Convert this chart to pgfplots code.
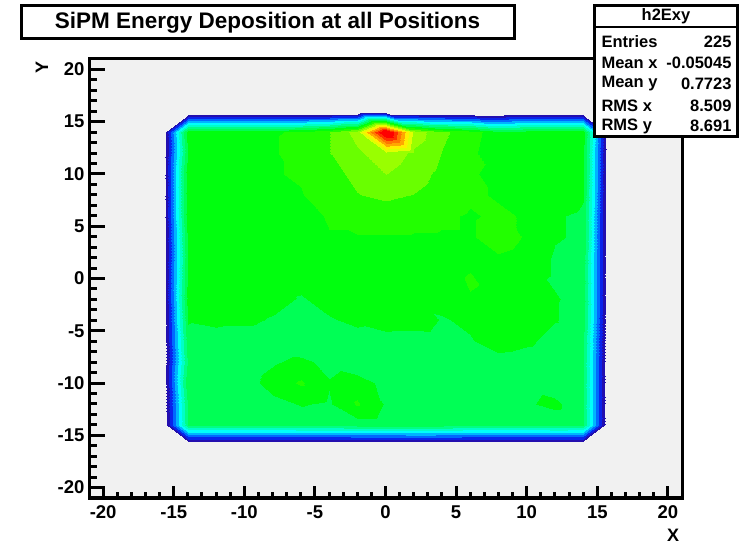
\documentclass[border=0pt]{standalone}
\usepackage{fontspec}
\setmainfont{Liberation Sans}
\usepackage{pgfplots}
\pgfplotsset{compat=1.18}
\definecolor{bgGray}{RGB}{241,241,241}
\begin{document}
\begin{tikzpicture}
\useasboundingbox (0,0) rectangle (739bp,544bp);
\begin{axis}[
  at={(89bp,46bp)}, anchor=south west,
  width=593bp, height=439bp, scale only axis,
  xmin=-21, xmax=21, ymin=-21, ymax=21,
  axis background/.style={fill=bgGray},
  axis line style={line width=3bp, black},
  xtick={-20,-15,...,20}, ytick={-20,-15,...,20},
  minor tick num=4,
  xtick pos=bottom, ytick pos=left,
  tick align=inside,
  major tick length=16bp, minor tick length=8bp,
  xtick style={/pgfplots/major tick length=12bp,/pgfplots/minor tick length=6bp},
  tick style={black, line width=3bp},
  /pgf/number format/assume math mode=true,
  ticklabel style={font=\fontsize{18.5bp}{18.5bp}\selectfont\bfseries},
  xticklabel style={yshift=-4bp},
  yticklabel style={xshift=-1bp},
  colormap={rootcont}{
    rgb255=(241,241,241) rgb255=(241,241,241) rgb255=(35,15,175) rgb255=(10,35,235)
    rgb255=(0,105,255) rgb255=(0,180,255) rgb255=(0,255,250) rgb255=(0,255,200)
    rgb255=(0,255,133) rgb255=(0,255,85) rgb255=(0,255,14) rgb255=(34,255,0)
    rgb255=(105,255,0) rgb255=(153,255,0) rgb255=(224,255,0) rgb255=(255,238,0)
    rgb255=(255,167,0) rgb255=(255,119,0) rgb255=(255,48,0) rgb255=(255,0,0)
    rgb255=(255,0,0)},
  colormap access=piecewise constant,
  point meta min=0, point meta max=1,
]
\addplot[surf, shader=interp, point meta=explicit, mesh/cols=17] table[x=x, y=y, meta=c] {
x y c
-16 -16 0
-14 -16 0
-12 -16 0
-10 -16 0
-8 -16 0
-6 -16 0
-4 -16 0
-2 -16 0
0 -16 0
2 -16 0
4 -16 0
6 -16 0
8 -16 0
10 -16 0
12 -16 0
14 -16 0
16 -16 0

-16 -14 0
-14 -14 0.43
-12 -14 0.43
-10 -14 0.43
-8 -14 0.43
-6 -14 0.44
-4 -14 0.44
-2 -14 0.45
0 -14 0.45
2 -14 0.46
4 -14 0.45
6 -14 0.43
8 -14 0.43
10 -14 0.43
12 -14 0.44
14 -14 0.43
16 -14 0

-16 -12 0
-14 -12 0.44
-12 -12 0.43
-10 -12 0.44
-8 -12 0.46
-6 -12 0.48
-4 -12 0.47
-2 -12 0.53
0 -12 0.47
2 -12 0.45
4 -12 0.44
6 -12 0.43
8 -12 0.43
10 -12 0.47
12 -12 0.49
14 -12 0.43
16 -12 0

-16 -10 0
-14 -10 0.47
-12 -10 0.44
-10 -10 0.45
-8 -10 0.50
-6 -10 0.53
-4 -10 0.48
-2 -10 0.50
0 -10 0.46
2 -10 0.43
4 -10 0.43
6 -10 0.43
8 -10 0.43
10 -10 0.46
12 -10 0.44
14 -10 0.43
16 -10 0

-16 -8 0
-14 -8 0.44
-12 -8 0.43
-10 -8 0.44
-8 -8 0.47
-6 -8 0.49
-4 -8 0.46
-2 -8 0.44
0 -8 0.43
2 -8 0.43
4 -8 0.43
6 -8 0.44
8 -8 0.45
10 -8 0.44
12 -8 0.43
14 -8 0.43
16 -8 0

-16 -6 0
-14 -6 0.46
-12 -6 0.45
-10 -6 0.44
-8 -6 0.44
-6 -6 0.43
-4 -6 0.44
-2 -6 0.45
0 -6 0.44
2 -6 0.43
4 -6 0.44
6 -6 0.47
8 -6 0.51
10 -6 0.49
12 -6 0.45
14 -6 0.44
16 -6 0

-16 -4 0
-14 -4 0.48
-12 -4 0.49
-10 -4 0.49
-8 -4 0.47
-6 -4 0.44
-4 -4 0.47
-2 -4 0.49
0 -4 0.52
2 -4 0.52
4 -4 0.47
6 -4 0.49
8 -4 0.52
10 -4 0.52
12 -4 0.48
14 -4 0.45
16 -4 0

-16 -2 0
-14 -2 0.50
-12 -2 0.51
-10 -2 0.51
-8 -2 0.50
-6 -2 0.47
-4 -2 0.50
-2 -2 0.51
0 -2 0.50
2 -2 0.49
4 -2 0.50
6 -2 0.52
8 -2 0.51
10 -2 0.50
12 -2 0.48
14 -2 0.46
16 -2 0

-16 0 0
-14 0 0.49
-12 0 0.50
-10 0 0.51
-8 0 0.51
-6 0 0.50
-4 0 0.50
-2 0 0.51
0 0 0.50
2 0 0.49
4 0 0.50
6 0 0.53
8 0 0.50
10 0 0.49
12 0 0.47
14 0 0.46
16 0 0

-16 2 0
-14 2 0.48
-12 2 0.49
-10 2 0.51
-8 2 0.51
-6 2 0.49
-4 2 0.48
-2 2 0.49
0 2 0.49
2 2 0.48
4 2 0.49
6 2 0.51
8 2 0.52
10 2 0.51
12 2 0.47
14 2 0.46
16 2 0

-16 4 0
-14 4 0.49
-12 4 0.51
-10 4 0.50
-8 4 0.48
-6 4 0.49
-4 4 0.52
-2 4 0.52
0 4 0.52
2 4 0.52
4 4 0.52
6 4 0.52
8 4 0.54
10 4 0.52
12 4 0.48
14 4 0.47
16 4 0

-16 6 0
-14 6 0.51
-12 6 0.52
-10 6 0.51
-8 6 0.49
-6 6 0.50
-4 6 0.53
-2 6 0.55
0 6 0.55
2 6 0.54
4 6 0.53
6 6 0.52
8 6 0.53
10 6 0.52
12 6 0.48
14 6 0.47
16 6 0

-16 8 0
-14 8 0.51
-12 8 0.52
-10 8 0.52
-8 8 0.52
-6 8 0.52
-4 8 0.56
-2 8 0.57
0 8 0.58
2 8 0.57
4 8 0.55
6 8 0.53
8 8 0.52
10 8 0.52
12 8 0.50
14 8 0.48
16 8 0

-16 10 0
-14 10 0.51
-12 10 0.52
-10 10 0.52
-8 10 0.52
-6 10 0.53
-4 10 0.56
-2 10 0.58
0 10 0.62
2 10 0.59
4 10 0.56
6 10 0.53
8 10 0.51
10 10 0.51
12 10 0.50
14 10 0.49
16 10 0

-16 12 0
-14 12 0.48
-12 12 0.49
-10 12 0.52
-8 12 0.52
-6 12 0.54
-4 12 0.57
-2 12 0.61
0 12 0.65
2 12 0.61
4 12 0.57
6 12 0.54
8 12 0.48
10 12 0.50
12 12 0.52
14 12 0.49
16 12 0

-16 14 0
-14 14 0.51
-12 14 0.52
-10 14 0.52
-8 14 0.52
-6 14 0.53
-4 14 0.57
-2 14 0.64
0 14 1.00
2 14 0.65
4 14 0.58
6 14 0.55
8 14 0.49
10 14 0.50
12 14 0.52
14 14 0.50
16 14 0

-16 16 0
-14 16 0
-12 16 0
-10 16 0
-8 16 0
-6 16 0
-4 16 0
-2 16 0
0 16 0
2 16 0
4 16 0
6 16 0
8 16 0
10 16 0
12 16 0
14 16 0
16 16 0
};
% corner cells, listed with x reversed so that their diagonal joins the two empty neighbours
\addplot[surf, shader=interp, point meta=explicit, mesh/cols=2] table[x=x, y=y, meta=c] {
x y c
-14 14 0.51
-16 14 0
-14 16 0
-16 16 0
};
\addplot[surf, shader=interp, point meta=explicit, mesh/cols=2] table[x=x, y=y, meta=c] {
x y c
16 -16 0
14 -16 0
16 -14 0
14 -14 0.43
};
\end{axis}
% axis titles
\node[font=\fontsize{18bp}{18bp}\selectfont\bfseries, rotate=90] at (42bp,476bp) {Y};
\node[font=\fontsize{18bp}{18bp}\selectfont\bfseries] at (673bp,9bp) {X};
% title box
\draw[line width=3bp, fill=white] (21.5bp,505.5bp) rectangle (514bp,538.5bp);
\node[font=\fontsize{22.5bp}{22.5bp}\selectfont\bfseries] at (267.5bp,521.5bp) {SiPM Energy Deposition at all Positions};
% stats box
\draw[line width=3bp, fill=white] (594.5bp,407.5bp) rectangle (737.5bp,538.5bp);
\draw[line width=2.5bp] (594.5bp,517bp) -- (737.5bp,517bp);
\begin{scope}[font=\fontsize{16.5bp}{16.5bp}\selectfont\bfseries]
\node at (666bp,528bp) {h2Exy};
\node[anchor=west] at (598bp,502bp) {Entries};
\node[anchor=east] at (735bp,502bp) {225};
\node[anchor=west] at (598bp,481bp) {Mean x};
\node[anchor=east] at (735bp,481bp) {-0.05045};
\node[anchor=west] at (598bp,460bp) {Mean y};
\node[anchor=east] at (735bp,460bp) {0.7723};
\node[anchor=west] at (598bp,438bp) {RMS x};
\node[anchor=east] at (735bp,438bp) {8.509};
\node[anchor=west] at (598bp,418bp) {RMS y};
\node[anchor=east] at (735bp,418bp) {8.691};
\end{scope}
\end{tikzpicture}
\end{document}
